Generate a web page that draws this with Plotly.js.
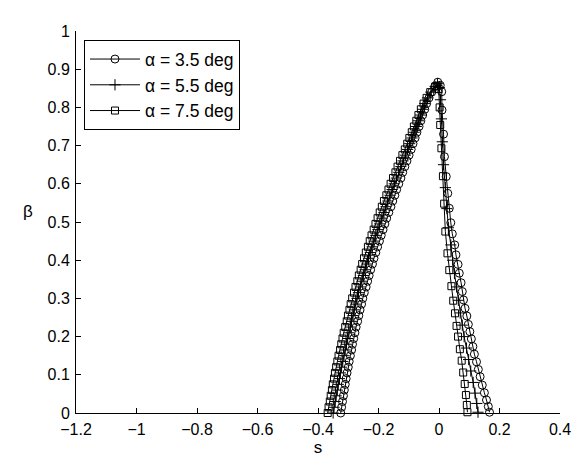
<!DOCTYPE html>
<html>
<head>
<meta charset="utf-8">
<script src="https://cdn.plot.ly/plotly-3.0.1.min.js"></script>
<style>html,body{margin:0;padding:0;background:#fff;}#chart{width:575px;height:463px;}</style>
</head>
<body>
<div id="chart"></div>
<script>
// Shared beta samples of the rising (left) branch
var betaLeft = [0, 0.015, 0.03, 0.045, 0.06, 0.075, 0.09, 0.105, 0.12, 0.135, 0.15, 0.165, 0.18, 0.195, 0.21, 0.225, 0.24, 0.255, 0.27, 0.285, 0.3, 0.315, 0.33, 0.345, 0.36, 0.375, 0.39, 0.405, 0.42, 0.435, 0.45, 0.465, 0.48, 0.495, 0.51, 0.525, 0.54, 0.555, 0.57, 0.585, 0.6, 0.615, 0.63, 0.645, 0.66, 0.675, 0.69, 0.705, 0.72, 0.735, 0.75, 0.765, 0.78, 0.795, 0.81, 0.825, 0.84, 0.855];

// alpha = 3.5 deg
var sLeft35 = [-0.325, -0.322, -0.319, -0.316, -0.313, -0.310, -0.307, -0.304, -0.300, -0.297, -0.293, -0.289, -0.286, -0.282, -0.278, -0.274, -0.269, -0.265, -0.261, -0.256, -0.252, -0.247, -0.241, -0.236, -0.231, -0.226, -0.220, -0.215, -0.209, -0.203, -0.197, -0.191, -0.185, -0.179, -0.173, -0.166, -0.159, -0.153, -0.146, -0.140, -0.133, -0.126, -0.120, -0.113, -0.106, -0.099, -0.092, -0.086, -0.079, -0.073, -0.066, -0.060, -0.054, -0.047, -0.041, -0.033, -0.024, -0.014];
var betaRight35 = [0.866, 0.858, 0.841, 0.793, 0.730, 0.671, 0.619, 0.575, 0.536, 0.498, 0.469, 0.440, 0.414, 0.389, 0.366, 0.341, 0.318, 0.296, 0.274, 0.254, 0.232, 0.213, 0.194, 0.174, 0.154, 0.134, 0.114, 0.095, 0.073, 0.053, 0.034, 0.017, 0.002];
var sRight35 = [-0.004, 0.004, 0.009, 0.010, 0.015, 0.018, 0.024, 0.029, 0.034, 0.039, 0.044, 0.052, 0.056, 0.063, 0.067, 0.073, 0.077, 0.081, 0.086, 0.092, 0.097, 0.102, 0.107, 0.112, 0.117, 0.124, 0.130, 0.136, 0.143, 0.150, 0.157, 0.163, 0.167];

// alpha = 5.5 deg
var sLeft55 = [-0.350, -0.347, -0.343, -0.340, -0.336, -0.333, -0.329, -0.326, -0.322, -0.318, -0.314, -0.310, -0.306, -0.302, -0.298, -0.293, -0.289, -0.284, -0.280, -0.275, -0.271, -0.266, -0.260, -0.255, -0.250, -0.244, -0.239, -0.233, -0.227, -0.221, -0.215, -0.209, -0.202, -0.196, -0.189, -0.182, -0.175, -0.169, -0.162, -0.155, -0.148, -0.141, -0.133, -0.126, -0.119, -0.111, -0.104, -0.097, -0.089, -0.082, -0.075, -0.068, -0.061, -0.054, -0.047, -0.038, -0.027, -0.013];
var betaRight55 = [0.862, 0.852, 0.82, 0.77, 0.71, 0.65, 0.59, 0.535, 0.485, 0.44, 0.40, 0.365, 0.33, 0.295, 0.262, 0.23, 0.20, 0.17, 0.14, 0.11, 0.08, 0.052, 0.025, 0.002];
var sRight55 = [-0.005, 0.001, 0.005, 0.008, 0.011, 0.015, 0.021, 0.026, 0.031, 0.039, 0.045, 0.051, 0.058, 0.064, 0.070, 0.077, 0.083, 0.091, 0.098, 0.105, 0.113, 0.119, 0.125, 0.129];

// alpha = 7.5 deg
var sLeft75 = [-0.368, -0.365, -0.361, -0.358, -0.354, -0.351, -0.347, -0.344, -0.340, -0.336, -0.332, -0.327, -0.323, -0.319, -0.315, -0.310, -0.305, -0.301, -0.296, -0.292, -0.287, -0.281, -0.276, -0.270, -0.265, -0.259, -0.254, -0.248, -0.242, -0.235, -0.229, -0.223, -0.216, -0.210, -0.203, -0.196, -0.189, -0.182, -0.174, -0.167, -0.160, -0.152, -0.144, -0.137, -0.129, -0.121, -0.113, -0.105, -0.098, -0.090, -0.083, -0.075, -0.068, -0.060, -0.051, -0.041, -0.029, -0.012];
var betaRight75 = [0.857, 0.848, 0.80, 0.754, 0.693, 0.620, 0.548, 0.475, 0.418, 0.374, 0.332, 0.294, 0.261, 0.228, 0.200, 0.167, 0.137, 0.106, 0.076, 0.047, 0.021, 0.002];
var sRight75 = [-0.006, -0.001, 0.002, 0.004, 0.008, 0.013, 0.017, 0.021, 0.028, 0.034, 0.041, 0.047, 0.053, 0.058, 0.063, 0.069, 0.075, 0.080, 0.085, 0.089, 0.092, 0.094];

var seriesNames = ['\u03b1 = 3.5 deg', '\u03b1 = 5.5 deg', '\u03b1 = 7.5 deg'];
var xTickVals = [-1.2, -1, -0.8, -0.6, -0.4, -0.2, 0, 0.2, 0.4];
var yTickVals = [0, 0.1, 0.2, 0.3, 0.4, 0.5, 0.6, 0.7, 0.8, 0.9, 1];

var FONT = 'Liberation Sans, Arial, Helvetica, sans-serif';

function mk(name, sL, sR, bR, symbol, size) {
  return {
    type: 'scatter', mode: 'lines+markers', name: name,
    x: sL.concat(sR), y: betaLeft.concat(bR),
    line: {color: '#000', width: 1},
    marker: {symbol: symbol, size: size, color: '#000', line: {color: '#000', width: 1}},
    cliponaxis: false
  };
}

var data = [
  mk(seriesNames[0], sLeft35, sRight35, betaRight35, 'circle-open', 8),
  mk(seriesNames[1], sLeft55, sRight55, betaRight55, 'cross-thin-open', 8),
  mk(seriesNames[2], sLeft75, sRight75, betaRight75, 'square-open', 7)
];

var layout = {
  width: 575, height: 463,
  margin: {l: 76, r: 15, t: 31, b: 50, pad: 0},
  paper_bgcolor: '#fff', plot_bgcolor: '#fff',
  font: {family: FONT, size: 16, color: '#000'},
  showlegend: true,
  legend: {
    x: 0.0165, y: 0.976, xanchor: 'left', yanchor: 'top',
    bordercolor: '#000', borderwidth: 1, bgcolor: '#fff',
    font: {family: FONT, size: 17.5, color: '#000'},
    itemwidth: 50, tracegroupgap: 0
  },
  xaxis: {
    range: [-1.2, 0.4], tickvals: xTickVals, ticks: 'inside', ticklen: 5, tickcolor: '#000',
    showline: true, linecolor: '#000', linewidth: 1, showgrid: false, zeroline: false,
    mirror: false, tickfont: {family: FONT, size: 16, color: '#000'}, ticklabelstandoff: 2,
    title: {text: 's', font: {family: FONT, size: 17, color: '#000'}, standoff: 3}
  },
  yaxis: {
    range: [0, 1], tickvals: yTickVals, ticks: 'inside', ticklen: 5, tickcolor: '#000',
    showline: true, linecolor: '#000', linewidth: 1, showgrid: false, zeroline: false,
    mirror: false, tickfont: {family: FONT, size: 16, color: '#000'}, ticklabelstandoff: 2
  },
  annotations: [{
    text: '\u03b2', xref: 'paper', yref: 'paper', x: -0.084, y: 0.527,
    xanchor: 'right', yanchor: 'middle', showarrow: false,
    font: {family: FONT, size: 17, color: '#000'}
  }]
};

Plotly.newPlot('chart', data, layout, {staticPlot: true, displayModeBar: false});
</script>
</body>
</html>
